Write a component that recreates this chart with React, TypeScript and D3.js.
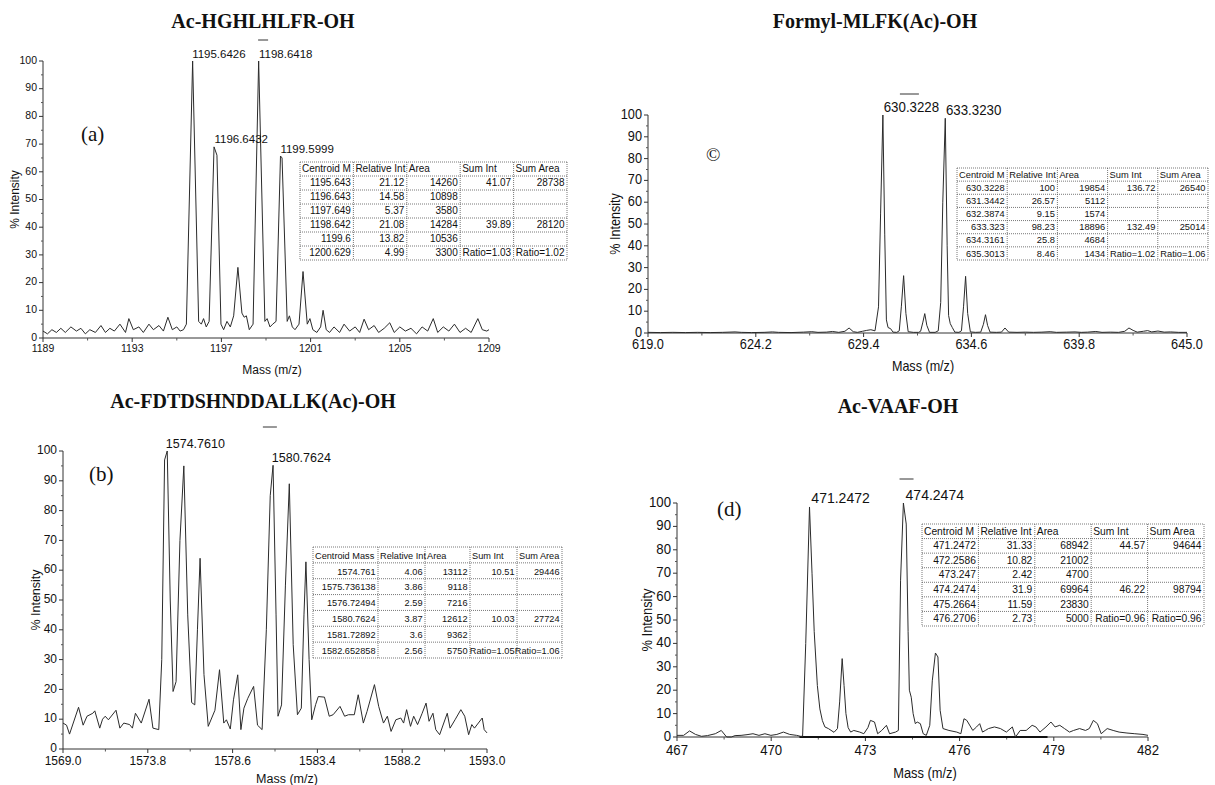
import React from 'react';
import * as d3 from 'd3';

type Pt = [number, number];

// spectra, [m/z, % intensity]
const specA: Pt[] = [
  [1189.0, 2.5], [1189.2, 1.5], [1189.4, 3], [1189.6, 2], [1189.8, 3.5], [1190.0, 2], [1190.25, 4], [1190.5, 2.5],
  [1190.7, 3.5], [1190.9, 1.5], [1191.1, 3], [1191.35, 2], [1191.6, 4.5], [1191.8, 2], [1192.0, 3.5], [1192.2, 2.5],
  [1192.45, 5], [1192.7, 2], [1192.85, 7], [1193.05, 3], [1193.3, 4], [1193.5, 2], [1193.75, 5], [1193.95, 3],
  [1194.2, 4.5], [1194.4, 2.5], [1194.6, 7.5], [1194.8, 3], [1195.0, 4], [1195.15, 2.5], [1195.3, 3], [1195.43, 5],
  [1195.71, 100], [1195.98, 6], [1196.1, 5], [1196.2, 7], [1196.32, 4], [1196.45, 6], [1196.67, 69], [1196.8, 66],
  [1196.98, 5], [1197.1, 3], [1197.25, 6], [1197.4, 4], [1197.55, 8], [1197.74, 25.5], [1197.92, 9], [1198.02, 7.5],
  [1198.12, 8], [1198.25, 3], [1198.42, 5], [1198.67, 100], [1198.95, 6], [1199.05, 7], [1199.18, 4], [1199.3, 5],
  [1199.45, 6], [1199.65, 65.7], [1199.72, 65], [1199.95, 6], [1200.05, 8], [1200.18, 4], [1200.3, 3], [1200.48, 5],
  [1200.66, 24], [1200.85, 5], [1200.97, 7], [1201.1, 3], [1201.28, 2], [1201.45, 4], [1201.56, 10], [1201.7, 3],
  [1201.85, 2], [1202.05, 4], [1202.3, 2], [1202.5, 5], [1202.75, 2.5], [1203.0, 4], [1203.2, 2], [1203.4, 6.8],
  [1203.6, 3], [1203.85, 4.5], [1204.05, 2], [1204.3, 3.5], [1204.55, 5.5], [1204.75, 2], [1205.0, 4], [1205.25, 2.5],
  [1205.5, 3.5], [1205.75, 1.5], [1206.0, 4], [1206.25, 2.5], [1206.5, 7], [1206.7, 2], [1206.95, 4], [1207.2, 2.5],
  [1207.45, 5], [1207.7, 2], [1207.95, 3.5], [1208.2, 2], [1208.5, 7], [1208.7, 3], [1208.9, 2.5], [1209.0, 3],
];

const specB: Pt[] = [
  [1569.0, 8.7], [1569.2, 8], [1569.37, 5], [1569.88, 14], [1570.14, 8], [1570.36, 11], [1570.69, 12], [1570.8, 12.8],
  [1571.08, 7], [1571.24, 10], [1571.39, 11], [1571.57, 9.8], [1572.0, 13], [1572.22, 7], [1572.44, 8.7], [1572.77, 8.2],
  [1572.93, 7], [1573.1, 12], [1573.43, 8.7], [1573.87, 16.7], [1574.09, 7], [1574.42, 6.5], [1574.59, 30], [1574.75, 97],
  [1574.9, 100], [1575.07, 50], [1575.23, 19.3], [1575.4, 22.6], [1575.62, 70], [1575.84, 95], [1576.06, 45], [1576.28, 15.6],
  [1576.46, 14.8], [1576.61, 40], [1576.76, 64], [1576.98, 25], [1577.22, 7.6], [1577.6, 13], [1577.86, 26.6], [1578.1, 8.7],
  [1578.25, 9.8], [1578.47, 6.7], [1578.65, 16.5], [1578.89, 24.9], [1579.07, 6.5], [1579.24, 13.7], [1579.46, 17], [1579.79, 21],
  [1580.01, 8], [1580.27, 6.5], [1580.51, 40], [1580.73, 85], [1580.89, 95.2], [1581.06, 45], [1581.17, 11], [1581.37, 14.8],
  [1581.59, 55], [1581.81, 89], [1582.03, 35], [1582.27, 11.5], [1582.49, 13.7], [1582.64, 45], [1582.75, 62.8], [1582.93, 30],
  [1583.08, 9.8], [1583.3, 14.9], [1583.45, 17.6], [1583.8, 17.4], [1584.07, 11], [1584.29, 11.5], [1584.68, 14.3], [1584.94, 11],
  [1585.16, 11.5], [1585.49, 11.5], [1585.71, 18.2], [1586.0, 8.7], [1586.21, 12.6], [1586.63, 21.6], [1586.87, 14.3], [1587.14, 8.7],
  [1587.36, 11], [1587.57, 5.9], [1587.84, 9.8], [1588.12, 10.4], [1588.28, 8.7], [1588.45, 13.2], [1588.67, 7.6], [1588.85, 11],
  [1589.07, 8.2], [1589.33, 12], [1589.55, 15.4], [1589.72, 9.3], [1589.94, 12], [1590.1, 6.5], [1590.32, 4.8], [1590.75, 12],
  [1590.91, 7], [1591.19, 9.8], [1591.52, 13.2], [1591.74, 11], [1591.96, 4.8], [1592.14, 8.2], [1592.29, 7], [1592.73, 10.4],
  [1592.84, 6.5], [1593.0, 5.4],
];

const specC: Pt[] = [
  [619.0, 0.3], [619.6, 0.2], [620.2, 0.3], [620.8, 0.2], [621.4, 0.3], [622.0, 0.2], [622.6, 0.3], [623.2, 0.5],
  [623.5, 0.3], [624.0, 0.2], [624.6, 0.3], [625.0, 0.5], [625.3, 0.3], [625.9, 0.2], [626.5, 0.4], [626.9, 0.6],
  [627.2, 0.3], [627.6, 0.4], [627.9, 0.7], [628.2, 0.3], [628.5, 0.8], [628.7, 2.3], [628.9, 0.6], [629.1, 0.3],
  [629.35, 0.8], [629.55, 1.2], [629.75, 1.5], [629.95, 1.0], [630.12, 12], [630.22, 55], [630.33, 100], [630.42, 45],
  [630.5, 6], [630.58, 2.5], [630.7, 2], [630.82, 0.4], [631.0, 0.3], [631.12, 1], [631.22, 12], [631.33, 26.3],
  [631.44, 9], [631.55, 0.6], [631.8, 0.3], [632.05, 0.3], [632.15, 0.8], [632.26, 5], [632.35, 8.9], [632.45, 3.5],
  [632.58, 0.3], [632.85, 0.3], [633.0, 1], [633.12, 14], [633.22, 60], [633.34, 98.5], [633.43, 40], [633.5, 8],
  [633.58, 4.3], [633.68, 2.5], [633.8, 0.4], [634.0, 0.3], [634.12, 1], [634.22, 12], [634.32, 26], [634.42, 9],
  [634.55, 0.5], [634.8, 0.3], [635.05, 0.4], [635.18, 4], [635.28, 8.4], [635.38, 3.5], [635.5, 0.4], [635.8, 0.3],
  [636.05, 0.4], [636.22, 2.3], [636.4, 0.4], [636.8, 0.3], [637.2, 0.4], [637.6, 0.3], [638.0, 0.4], [638.4, 0.6],
  [638.7, 0.3], [639.2, 0.4], [639.6, 0.5], [639.9, 0.3], [640.2, 0.4], [640.6, 0.7], [640.9, 0.3], [641.3, 0.4],
  [641.7, 0.3], [642.0, 0.8], [642.2, 2.3], [642.4, 1.2], [642.6, 0.4], [642.9, 0.8], [643.1, 1.1], [643.3, 0.5],
  [643.6, 0.9], [643.9, 0.4], [644.2, 0.5], [644.6, 0.3], [645.0, 0.3],
];

const specD: Pt[] = [
  [467.0, 0.7], [467.21, 0.7], [467.4, 2.6], [467.59, 1.1], [467.78, 0.3], [467.97, 0.6], [468.22, 1.4], [468.41, 2.8],
  [468.58, 0], [468.73, 0], [468.85, 0.6], [469.04, 0.7], [469.23, 1.0], [469.42, 1.4], [469.61, 0.7], [469.8, 1.4],
  [469.99, 0.7], [470.18, 1.1], [470.39, 2.1], [470.59, 1.1], [470.81, 0.7], [470.93, 0.3], [471.0, 0.3], [471.1, 40],
  [471.22, 98.3], [471.3, 70], [471.37, 45], [471.47, 22], [471.55, 12], [471.63, 7], [471.71, 4.3], [471.82, 3.6],
  [472.0, 2], [472.11, 3.6], [472.18, 15], [472.26, 33.5], [472.32, 22], [472.38, 10], [472.45, 4], [472.53, 2.1],
  [472.63, 2.8], [472.82, 2.1], [472.95, 1.4], [473.08, 4], [473.16, 7.1], [473.29, 6.4], [473.39, 1.4], [473.52, 2.8],
  [473.67, 5], [473.77, 1.4], [473.96, 2.1], [474.05, 2.8], [474.12, 67], [474.21, 100], [474.3, 91], [474.36, 45],
  [474.4, 20], [474.46, 17], [474.52, 10], [474.59, 5.7], [474.65, 6.4], [474.75, 5.7], [474.84, 1.4], [474.94, 0.7],
  [475.05, 5], [475.13, 24], [475.23, 35.9], [475.31, 34.2], [475.38, 11.4], [475.47, 3.6], [475.66, 2.8], [475.91, 2.1],
  [476.04, 1.4], [476.14, 7.8], [476.23, 7.1], [476.42, 2.8], [476.54, 4.3], [476.64, 5.7], [476.73, 2.1], [476.82, 2.8],
  [476.92, 3.6], [477.11, 4.3], [477.3, 3.6], [477.49, 2.1], [477.68, 4.3], [477.78, 0], [477.93, 2.8], [478.12, 2.8],
  [478.31, 5], [478.43, 4.3], [478.56, 2.1], [478.75, 4.3], [478.91, 6.4], [479.04, 4.3], [479.19, 5], [479.34, 3.6],
  [479.5, 2.1], [479.63, 2.8], [479.82, 3.6], [480.01, 2.8], [480.13, 3.6], [480.26, 7.1], [480.39, 5.7], [480.51, 1.4],
  [480.7, 3.6], [480.89, 2.8], [481.08, 2.1], [481.33, 1.7], [481.58, 1.4], [481.84, 1.1], [482.0, 0.7],
];
// thick baseline segment under the (d) peaks
const baseD: Pt = [470.9, 478.8];

// labelled peaks: [m/z, height]
const peaksA: Pt[] = [[1195.6426, 100], [1198.6418, 100], [1196.6432, 69], [1199.5999, 65.7]];
const peaksB: Pt[] = [[1574.761, 100], [1580.7624, 95.2]];
const peaksC: Pt[] = [[630.3228, 100], [633.323, 98.5]];
const peaksD: Pt[] = [[471.2472, 98.3], [474.2474, 100]];

const xTicksA = [1189, 1193, 1197, 1201, 1205, 1209];
const xTicksB = [1569.0, 1573.8, 1578.6, 1583.4, 1588.2, 1593.0];
const xTicksC = [619.0, 624.2, 629.4, 634.6, 639.8, 645.0];
const xTicksD = [467, 470, 473, 476, 479, 482];
const yTicks = [0, 10, 20, 30, 40, 50, 60, 70, 80, 90, 100];
const yMinor = [5, 15, 25, 35, 45, 55, 65, 75, 85, 95];

const headShort = ['Centroid M', 'Relative Int', 'Area', 'Sum Int', 'Sum Area'];
const headLong = ['Centroid Mass', 'Relative Int', 'Area', 'Sum Int', 'Sum Area'];

const tableA = [
  ['1195.643', '21.12', '14260', '41.07', '28738'],
  ['1196.643', '14.58', '10898', '', ''],
  ['1197.649', '5.37', '3580', '', ''],
  ['1198.642', '21.08', '14284', '39.89', '28120'],
  ['1199.6', '13.82', '10536', '', ''],
  ['1200.629', '4.99', '3300', 'Ratio=1.03', 'Ratio=1.02'],
];
const tableB = [
  ['1574.761', '4.06', '13112', '10.51', '29446'],
  ['1575.736138', '3.86', '9118', '', ''],
  ['1576.72494', '2.59', '7216', '', ''],
  ['1580.7624', '3.87', '12612', '10.03', '27724'],
  ['1581.72892', '3.6', '9362', '', ''],
  ['1582.652858', '2.56', '5750', 'Ratio=1.05', 'Ratio=1.06'],
];
const tableC = [
  ['630.3228', '100', '19854', '136.72', '26540'],
  ['631.3442', '26.57', '5112', '', ''],
  ['632.3874', '9.15', '1574', '', ''],
  ['633.323', '98.23', '18896', '132.49', '25014'],
  ['634.3161', '25.8', '4684', '', ''],
  ['635.3013', '8.46', '1434', 'Ratio=1.02', 'Ratio=1.06'],
];
const tableD = [
  ['471.2472', '31.33', '68942', '44.57', '94644'],
  ['472.2586', '10.82', '21002', '', ''],
  ['473.247', '2.42', '4700', '', ''],
  ['474.2474', '31.9', '69964', '46.22', '98794'],
  ['475.2664', '11.59', '23830', '', ''],
  ['476.2706', '2.73', '5000', 'Ratio=0.96', 'Ratio=0.96'],
];

const SANS = "'Liberation Sans', Arial, sans-serif";
const SERIF = "'Liberation Serif', 'Times New Roman', serif";

const T = ({ x, y, sx = 1, anchor = 'start', size, family = SANS, weight = 'normal', rotate = 0, baseline, children }: any) => (
  <text
    transform={`translate(${x},${y}) rotate(${rotate}) scale(${sx},1)`}
    textAnchor={anchor}
    fontSize={size}
    fontFamily={family}
    fontWeight={weight}
    dominantBaseline={baseline}
    fill="#111"
  >
    {children}
  </text>
);

function Table({ t, header, rows }: any) {
  const total = d3.sum(t.cols as number[]);
  const xs = Array.from(d3.cumsum([0, ...t.cols])).map((v) => t.x + (v / total) * t.w);
  const all = [header, ...rows];
  const rowH = t.h / all.length;
  return (
    <g>
      {d3.range(all.length + 1).map((i) => (
        <line key={'r' + i} x1={t.x} x2={t.x + t.w} y1={t.y + i * rowH} y2={t.y + i * rowH}
          stroke="#555" strokeWidth={0.8} strokeDasharray="1 1" />
      ))}
      {xs.map((cx, i) => (
        <line key={'c' + i} x1={cx} x2={cx} y1={t.y} y2={t.y + t.h}
          stroke="#555" strokeWidth={0.8} strokeDasharray="1 1" />
      ))}
      {all.map((r: string[], i: number) =>
        r.map((cell, j) =>
          cell ? (
            <T key={i + '-' + j} x={i === 0 ? xs[j] + 2 : xs[j + 1] - 2.5} y={t.y + i * rowH + rowH * 0.74}
              anchor={i === 0 ? 'start' : 'end'} size={t.font} sx={t.sx}>
              {cell}
            </T>
          ) : null
        )
      )}
    </g>
  );
}

function Panel({ p }: any) {
  const { box } = p;
  const x = d3.scaleLinear().domain([p.xTicks[0], p.xTicks[p.xTicks.length - 1]]).range([box.x0, box.x1]);
  const y = d3.scaleLinear().domain([0, 100]).range([box.y0, box.y1]);
  const line = d3.line<Pt>().x((d) => x(d[0])).y((d) => y(d[1]));
  const xMinor = d3.pairs(p.xTicks as number[]).map(([a, b]) => (a + b) / 2);
  const fmt = d3.format(p.xFormat);

  return (
    <g>
      <T x={p.title.x} y={p.title.y} anchor="middle" size={20} family={SERIF} weight="bold">{p.name}</T>
      <T x={p.tag.x} y={p.tag.y} size={p.tag.size} family={SERIF}>{p.tag.text}</T>

      {/* axes */}
      <line x1={box.x0} x2={box.x0} y1={y(0)} y2={y(100)} stroke="#333" strokeWidth={1} />
      <line x1={box.x0} x2={box.x1} y1={y(0)} y2={y(0)} stroke="#333" strokeWidth={1} />
      {yTicks.map((v) => (
        <g key={'y' + v}>
          <line x1={box.x0 - 4} x2={box.x0} y1={y(v)} y2={y(v)} stroke="#333" />
          <T x={box.x0 - 6} y={y(v)} anchor="end" baseline="middle" size={p.tickFont} sx={p.tickSx}>{v}</T>
        </g>
      ))}
      {yMinor.map((v) => (
        <line key={'ym' + v} x1={box.x0 - 2} x2={box.x0} y1={y(v)} y2={y(v)} stroke="#555" />
      ))}
      {p.xTicks.map((v: number) => (
        <g key={'x' + v}>
          <line x1={x(v)} x2={x(v)} y1={y(0)} y2={y(0) + 4} stroke="#333" />
          <T x={x(v)} y={y(0) + p.tickDy} anchor="middle" size={p.tickFont} sx={p.tickSx}>{fmt(v)}</T>
        </g>
      ))}
      {xMinor.map((v) => (
        <line key={'xm' + v} x1={x(v)} x2={x(v)} y1={y(0)} y2={y(0) + 2.5} stroke="#555" />
      ))}
      <T x={p.xTitle.x} y={p.xTitle.y} anchor="middle" size={p.axisFont} sx={p.axisSx}>Mass (m/z)</T>
      <T x={p.yTitleX} y={(y(0) + y(100)) / 2} anchor="middle" baseline="middle" rotate={-90}
        size={p.axisFont} sx={p.axisSx}>% Intensity</T>

      {p.base && (
        <line x1={x(p.base[0])} x2={x(p.base[1])} y1={y(0)} y2={y(0)} stroke="#111" strokeWidth={2.2} />
      )}

      <path d={line(p.spec) || ''} fill="none" stroke="#2b2b2b" strokeWidth={1} strokeLinejoin="round" />

      {p.peaks.map(([m, h]: Pt) => (
        <T key={'p' + m} x={x(m) + 1} y={y(h) - 3.5} size={p.peakFont} sx={p.peakSx}>{m.toFixed(4)}</T>
      ))}
      <line x1={x(p.dash.m) - p.dash.w / 2} x2={x(p.dash.m) + p.dash.w / 2} y1={p.dash.y} y2={p.dash.y}
        stroke="#333" strokeWidth={1} />

      <Table t={p.table} header={p.header} rows={p.rows} />
    </g>
  );
}

const panels = [
  {
    name: 'Ac-HGHLHLFR-OH', spec: specA, peaks: peaksA, xTicks: xTicksA, xFormat: 'd',
    box: { x0: 43, x1: 489, y0: 338, y1: 61 },
    title: { x: 263, y: 28 }, tag: { text: '(a)', x: 81, y: 141, size: 21 },
    tickFont: 10.5, tickSx: 1, tickDy: 14, peakFont: 11.5, peakSx: 1, axisFont: 12, axisSx: 1,
    xTitle: { x: 272, y: 374 }, yTitleX: 16,
    dash: { m: 1198.87, y: 40, w: 10 },
    table: { x: 300, y: 162, w: 267, h: 98, font: 10, sx: 1, cols: [1, 1, 1, 1, 1] },
    header: headShort, rows: tableA,
  },
  {
    name: 'Ac-FDTDSHNDDALLK(Ac)-OH', spec: specB, peaks: peaksB, xTicks: xTicksB, xFormat: '.1f',
    box: { x0: 63, x1: 487, y0: 749, y1: 451 },
    title: { x: 253, y: 408 }, tag: { text: '(b)', x: 89, y: 481, size: 21 },
    tickFont: 12, tickSx: 1, tickDy: 16, peakFont: 12.5, peakSx: 1, axisFont: 12.5, axisSx: 1,
    xTitle: { x: 287, y: 783 }, yTitleX: 37,
    dash: { m: 1580.71, y: 427, w: 14 },
    table: { x: 313, y: 547, w: 249, h: 111, font: 9.2, sx: 1, cols: [65, 47, 45, 47, 45] },
    header: headLong, rows: tableB,
  },
  {
    name: 'Formyl-MLFK(Ac)-OH', spec: specC, peaks: peaksC, xTicks: xTicksC, xFormat: '.1f',
    box: { x0: 648, x1: 1187, y0: 333, y1: 115 },
    title: { x: 875, y: 28 }, tag: { text: '©', x: 706, y: 161, size: 19 },
    tickFont: 15, tickSx: 0.85, tickDy: 16, peakFont: 14, peakSx: 0.95, axisFont: 14, axisSx: 0.9,
    xTitle: { x: 923, y: 371 }, yTitleX: 616,
    dash: { m: 631.61, y: 94, w: 19 },
    table: { x: 957, y: 168, w: 251, h: 92, font: 9.8, sx: 0.95, cols: [1, 1, 1, 1, 1] },
    header: headShort, rows: tableC,
  },
  {
    name: 'Ac-VAAF-OH', spec: specD, peaks: peaksD, xTicks: xTicksD, xFormat: 'd', base: baseD,
    box: { x0: 677, x1: 1148, y0: 737, y1: 503 },
    title: { x: 898, y: 413 }, tag: { text: '(d)', x: 717, y: 516, size: 21 },
    tickFont: 15, tickSx: 0.88, tickDy: 18, peakFont: 14, peakSx: 1, axisFont: 14, axisSx: 0.92,
    xTitle: { x: 925, y: 778 }, yTitleX: 648,
    dash: { m: 474.31, y: 479, w: 14 },
    table: { x: 922, y: 524, w: 282, h: 102, font: 10.8, sx: 0.95, cols: [1, 1, 1, 1, 1] },
    header: headShort, rows: tableD,
  },
];

export default function App() {
  return (
    <svg width={1215} height={785} viewBox="0 0 1215 785"
      style={{ position: 'absolute', left: 0, top: 0, display: 'block', background: '#fff' }}>
      <rect width={1215} height={785} fill="#fff" />
      {panels.map((p) => (
        <Panel key={p.name} p={p} />
      ))}
    </svg>
  );
}
